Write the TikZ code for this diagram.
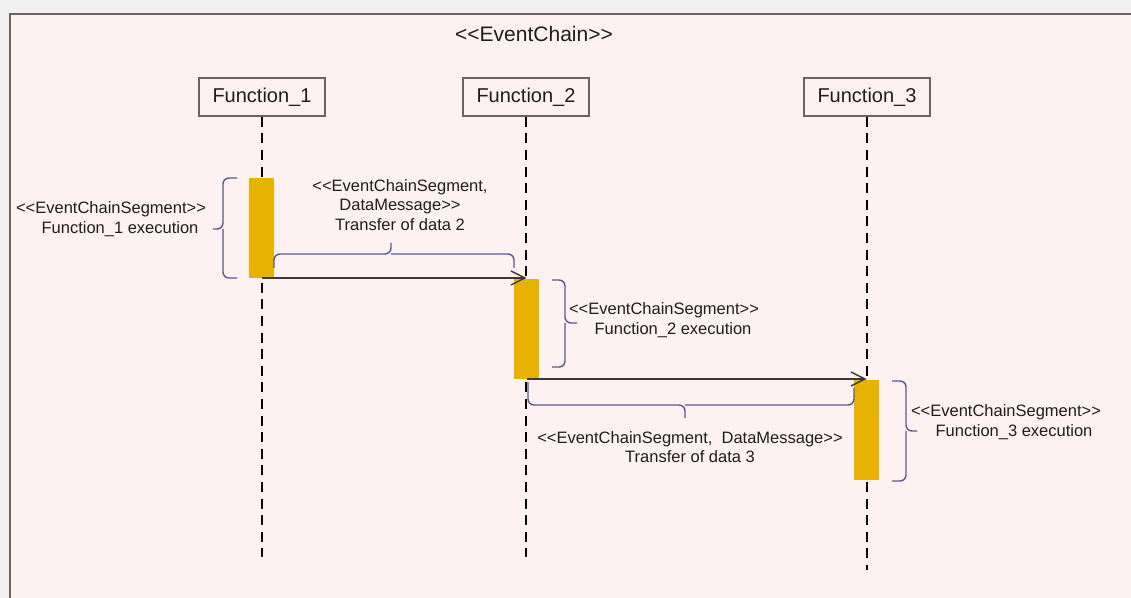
\documentclass[tikz,border=0pt]{standalone}
\usepackage{fontspec}
\setmainfont{Liberation Sans}
\usetikzlibrary{arrows.meta}
\definecolor{bgout}{HTML}{F0F0F0}
\definecolor{framefill}{HTML}{FDF1F1}
\definecolor{framedraw}{HTML}{6B6363}
\definecolor{barfill}{HTML}{E8B200}
\definecolor{bracecol}{HTML}{5A5A8C}
\definecolor{msgcol}{HTML}{3A3A3A}
\definecolor{txt}{HTML}{1E1E1E}
\newcommand{\dlt}{\mbox{<}\mbox{<}}
\newcommand{\dgt}{\mbox{>}\mbox{>}}
\begin{document}
\begin{tikzpicture}[x=0.5pt,y=-0.5pt,
  lifebox/.style={draw=framedraw, line width=0.75pt, fill=framefill, minimum width=63pt, minimum height=19pt, inner sep=0pt, font=\fontsize{10}{12}\selectfont, text=txt},
  lifeline/.style={draw=black, line width=1.15pt, dash pattern=on 5pt off 3.3pt},
  actbar/.style={fill=barfill, draw=none, minimum width=12.5pt, minimum height=50pt, inner sep=0pt, outer sep=0pt},
  msg/.style={draw=msgcol, line width=0.7pt, -{Straight Barb[length=7pt,width=7pt]}},
  bracket/.style={draw=bracecol, line width=0.7pt, rounded corners=3pt},
  lbl/.style={font=\fontsize{8.25}{9.8}\selectfont, text=txt, align=center, inner sep=0pt}
]
\useasboundingbox (0,0) rectangle (1131,598);
\fill[bgout] (0,0) rectangle (1131,598);
\fill[framefill] (10,14) rectangle (1131,598);
\draw[framedraw, line width=1pt] (10,598) -- (10,14) -- (1131,14);

\node[font=\fontsize{10.5}{12}\selectfont, text=txt, inner sep=0pt] (title) at (534,34) {\dlt EventChain\dgt};

\node[lifebox] (f1) at (262,97) {Function\_1};
\node[lifebox] (f2) at (526,97) {Function\_2};
\node[lifebox] (f3) at (867,97) {Function\_3};

\coordinate (e1) at (262,557);
\coordinate (e2) at (526,557);
\coordinate (e3) at (867,570);
\draw[lifeline] (f1.south) -- (e1);
\draw[lifeline] (f2.south) -- (e2);
\draw[lifeline] (f3.south) -- (e3);

\node[actbar] (b1) at (261.5,228) {};
\node[actbar] (b2) at (526.5,329) {};
\node[actbar] (b3) at (866.5,430) {};

\draw[msg] (b1.south) -- (b1.south -| b2.north);
\draw[msg] (b2.south) -- (b2.south -| b3.north);

% braces
\draw[bracket] (237,178) -| (223,229) -- (213,229);
\draw[bracket] (237,278) -| (223,229);
\draw[bracket] (274,268) |- (391,254) -- (391,243);
\draw[bracket] (514,268) |- (391,254);
\draw[bracket] (552,280) -| (565,323) -- (577,323);
\draw[bracket] (552,367) -| (565,323);
\draw[bracket] (528,382) |- (685,405) -- (685,418);
\draw[bracket] (854,388) |- (685,405);
\draw[bracket] (892,381) -| (906,431) -- (917,431);
\draw[bracket] (892,481) -| (906,431);

% labels
\node[lbl] (l1) at (111,219) {\dlt EventChainSegment\dgt\\\hspace*{9pt}Function\_1 execution};
\node[lbl] (l2) at (400,205) {\dlt EventChainSegment,\\DataMessage\dgt\\Transfer of data 2};
\node[lbl] (l3) at (664,320) {\dlt EventChainSegment\dgt\\\hspace*{9pt}Function\_2 execution};
\node[lbl] (l4) at (690,447) {\dlt EventChainSegment,\ \ DataMessage\dgt\\Transfer of data 3};
\node[lbl] (l5) at (1006,422) {\dlt EventChainSegment\dgt\\\hspace*{8pt}Function\_3 execution};
\end{tikzpicture}
\end{document}
